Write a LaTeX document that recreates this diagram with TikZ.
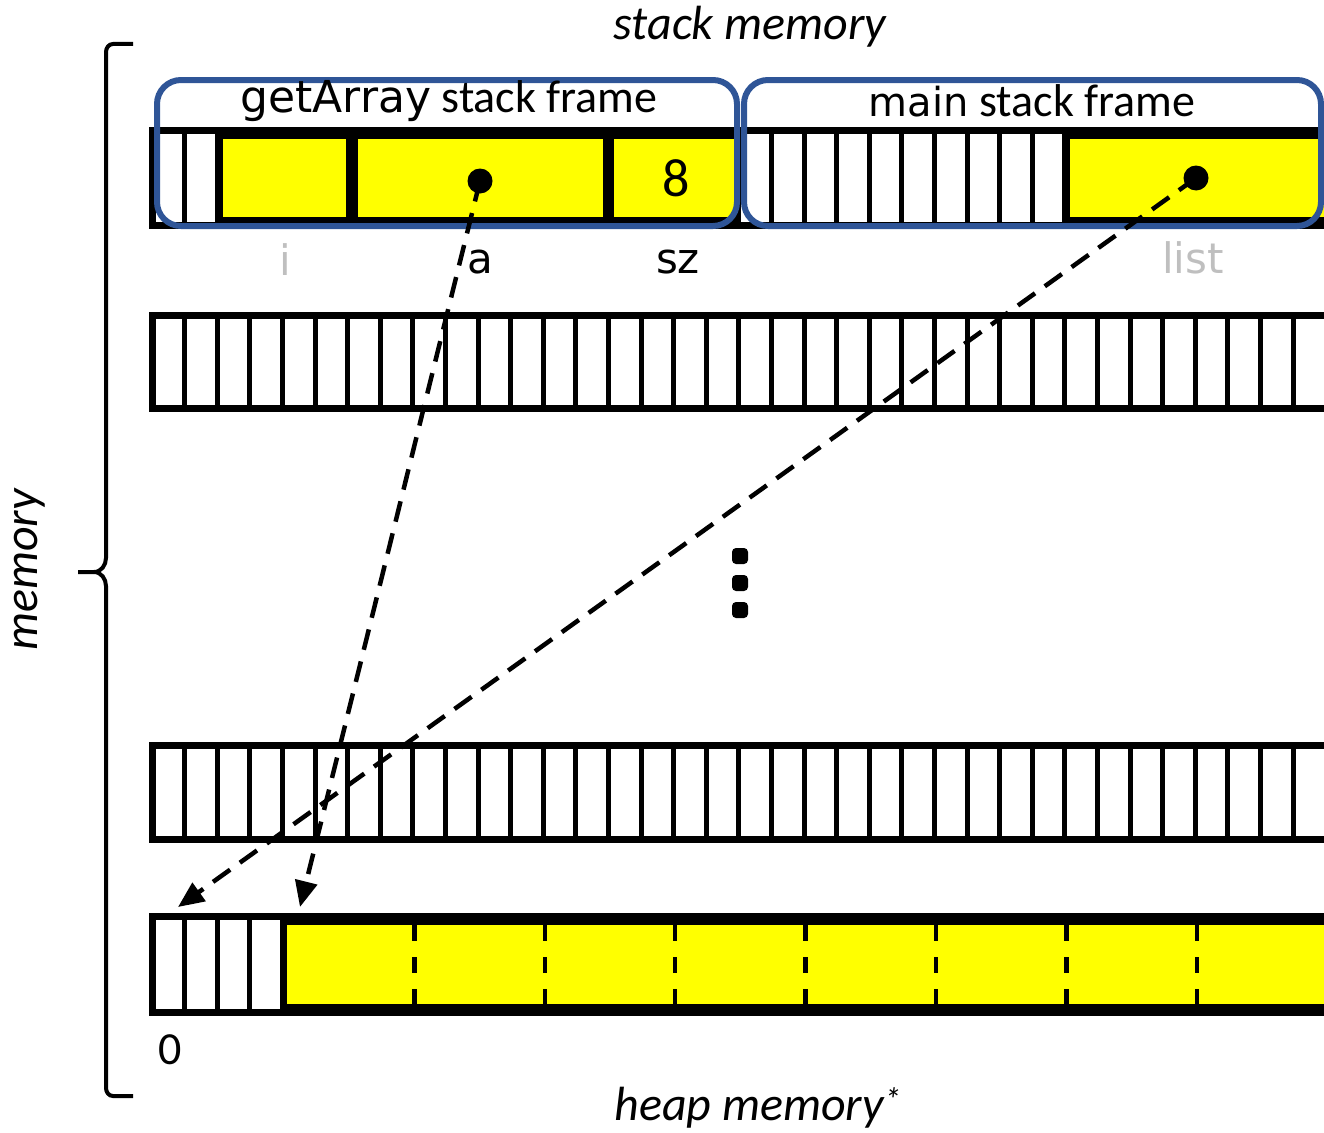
\documentclass[tikz,border=0pt]{standalone}
\usepackage{fontspec}
\setmainfont{Carlito}
\newfontfamily\cfont{DejaVu Sans}
\usetikzlibrary{arrows.meta}
\definecolor{frameblue}{RGB}{47,85,151}
\definecolor{lgray}{RGB}{191,191,191}
\definecolor{cellyellow}{RGB}{255,255,0}
\begin{document}
\begin{tikzpicture}[x=1pt,y=-1pt,
  rowframe/.style={draw=black,line width=7pt,fill=white},
  cellline/.style={line width=5pt},
  yellowbox/.style={draw=black,line width=6pt,fill=cellyellow},
  framebox/.style={draw=frameblue,line width=6pt,rounded corners=24pt},
  ptrdot/.style={circle,fill=black,minimum size=25pt,inner sep=0pt},
  ptr/.style={line width=4.5pt,dash pattern=on 21pt off 12pt,-{Triangle[length=26pt,width=22pt]}},
  dotmark/.style={fill=black,rounded corners=4pt,minimum size=16pt,inner sep=0pt},
  lbl/.style={font=\cfont\fontsize{42}{46}\selectfont,inner sep=0pt},
  big/.style={font=\fontsize{46}{50}\selectfont,inner sep=0pt},
  bigit/.style={font=\itshape\fontsize{48}{52}\selectfont,inner sep=0pt},
  brace/.style={line width=4pt}
]
\useasboundingbox (0,0) rectangle (1324,1132);
\clip (0,0) rectangle (1324,1132);

% rows
\foreach \t/\b in {130.5/225.5, 315.5/408.5, 745.5/839.5, 916.5/1012.5}{
  \draw[rowframe] (152,\t) rectangle (1345,\b);
  \foreach \k in {1,...,35}{
    \draw[cellline] ({152+32.6*\k},\t) -- ({152+32.6*\k},\b);
  }
}

% stack row yellow cells
\draw[yellowbox] (220,136) rectangle (349,220);
\draw[yellowbox] (355,136) rectangle (606,220);
\draw[yellowbox] (611,136) rectangle (738,220);
\draw[yellowbox] (1067,136) rectangle (1345,220);
\node[font=\fontsize{54}{58}\selectfont,inner sep=0pt] (szval) at (676,178) {8};

% heap array
\draw[yellowbox] (284,922) rectangle (1345,1007);
\foreach \k in {1,...,7}{
  \draw[line width=4.5pt,dash pattern=on 16pt off 16pt] ({284+130.4*\k},925) -- ({284+130.4*\k},1005);
}

% frames
\draw[framebox] (157,80) rectangle (737,226);
\draw[framebox] (744,80) rectangle (1321,226);
\node[big] (gtitle) at (449,101) {{\cfont\fontsize{44}{48}\selectfont getArray} stack frame};
\node[big] (mtitle) at (1032,101) {{\cfont\fontsize{40}{48}\selectfont main} stack frame};

% variable labels
\node[lbl,text=lgray] (li) at (285,260) {i};
\node[lbl] (la) at (480,262) {a};
\node[lbl] (lsz) at (678,262) {sz};
\node[lbl,text=lgray] (llist) at (1193,258) {list};

% ellipsis
\node[dotmark] (d1) at (740,556) {};
\node[dotmark] (d2) at (740,583) {};
\node[dotmark] (d3) at (740,610) {};

% pointers
\node[ptrdot] (pa) at (480,181) {};
\node[ptrdot] (plist) at (1196,178) {};
\coordinate (ta) at (300,907);
\coordinate (tlist) at (178,907);
\draw[ptr] (pa.center) -- (ta);
\draw[ptr] (plist.center) -- (tlist);

% texts
\node[bigit] (stk) at (750,27) {stack memory};
\node[bigit] (hp) at (758,1108) {heap memory\textsuperscript{*}};
\node[big] (zero) at (170,1050) {0};
\node[bigit,rotate=90] (mem) at (30,570) {memory};

% brace
\draw[brace] (133,44) -- (113,44) to[out=180,in=90] (106,52) -- (106,558)
  to[out=-90,in=0] (94,572) -- (78,572);
\draw[brace] (94,572) to[out=0,in=90] (106,586) -- (106,1088)
  to[out=-90,in=180] (113,1096) -- (133,1096);
\end{tikzpicture}
\end{document}
